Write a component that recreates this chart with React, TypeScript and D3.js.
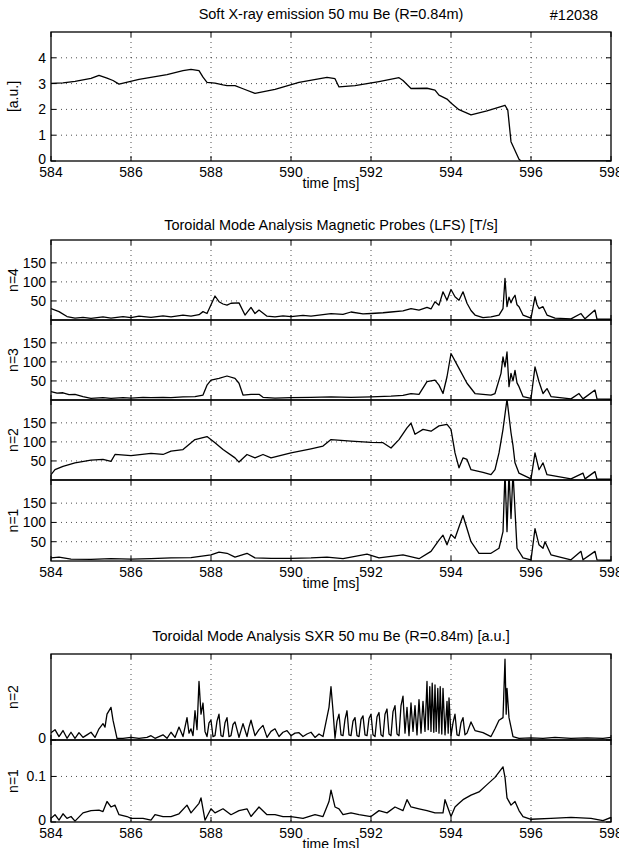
import React from "react";
import * as d3 from "d3";

// time axis
const xTicks = [584, 586, 588, 590, 592, 594, 596, 598];

// soft X-ray emission 50 mu Be (R=0.84m), [time ms, a.u.]
const sxrEmission: [number, number][] = [
  [584.0, 3.01], [584.3, 3.03], [584.6, 3.09], [585.0, 3.2], [585.2, 3.32], [585.4, 3.21], [585.55, 3.12],
  [585.7, 2.98], [586.2, 3.16], [586.9, 3.35], [587.3, 3.5], [587.5, 3.55], [587.7, 3.5], [587.8, 3.25],
  [587.9, 3.05], [588.1, 3.02], [588.3, 2.95], [588.4, 2.92], [588.6, 2.92], [588.8, 2.8], [589.1, 2.62],
  [589.6, 2.78], [590.2, 3.05], [590.9, 3.24], [591.1, 3.19], [591.2, 2.87], [591.6, 2.92], [592.2, 3.08],
  [592.7, 3.23], [592.8, 3.12], [593.0, 2.81], [593.4, 2.82], [593.6, 2.75], [593.7, 2.55], [593.9, 2.4],
  [594.0, 2.25], [594.2, 1.99], [594.5, 1.79], [594.9, 1.94], [595.35, 2.16], [595.42, 1.97],
  [595.5, 0.75], [595.7, 0.07], [595.75, 0.0], [598.0, 0.0],
];

// magnetic probes (LFS) [T/s]
const probeN4: [number, number][] = [
  [584.0, 30], [584.2, 22], [584.4, 9], [584.6, 5], [584.8, 7], [585.0, 4], [585.3, 8], [585.5, 5],
  [585.8, 9], [586.0, 6], [586.2, 10], [586.5, 7], [586.8, 11], [587.0, 8], [587.3, 13], [587.5, 10],
  [587.7, 14], [587.8, 22], [587.9, 17], [588.1, 63], [588.2, 48], [588.3, 42], [588.4, 39],
  [588.5, 44], [588.7, 45], [588.85, 13], [589.0, 33], [589.1, 17], [589.2, 26], [589.4, 10],
  [589.6, 8], [589.8, 11], [590.0, 9], [590.3, 12], [590.5, 10], [590.8, 14], [591.0, 17],
  [591.3, 15], [591.5, 21], [591.8, 16], [592.0, 17], [592.3, 19], [592.5, 21], [592.8, 24],
  [593.0, 30], [593.2, 26], [593.4, 33], [593.5, 29], [593.6, 48], [593.7, 39], [593.8, 74],
  [593.9, 52], [594.0, 80], [594.1, 61], [594.2, 52], [594.3, 74], [594.4, 44], [594.5, 25],
  [594.6, 13], [594.8, 6], [595.0, 8], [595.2, 13], [595.3, 30], [595.35, 109], [595.4, 35],
  [595.45, 60], [595.5, 45], [595.55, 57], [595.6, 65], [595.65, 40], [595.7, 35], [595.8, 13],
  [596.0, 5], [596.1, 61], [596.15, 40], [596.2, 30], [596.3, 35], [596.4, 13], [596.6, 5],
  [597.0, 3], [597.25, 17], [597.35, 3], [597.6, 26], [597.65, 2], [598.0, 2],
];
const probeN3: [number, number][] = [
  [584.0, 22], [584.15, 18], [584.3, 19], [584.45, 14], [584.6, 15], [584.8, 9], [585.0, 4],
  [585.3, 6], [585.5, 4], [585.8, 6], [586.0, 5], [586.3, 7], [586.5, 6], [586.8, 7], [587.0, 6],
  [587.3, 8], [587.6, 9], [587.8, 13], [587.9, 39], [588.0, 52], [588.2, 57], [588.4, 63],
  [588.6, 57], [588.7, 44], [588.8, 13], [589.0, 15], [589.2, 15], [589.3, 7], [589.6, 5],
  [590.0, 6], [590.5, 7], [591.0, 8], [591.5, 7], [592.0, 8], [592.5, 10], [592.8, 12],
  [593.0, 17], [593.2, 15], [593.4, 48], [593.6, 52], [593.7, 39], [593.8, 17], [593.9, 61],
  [594.0, 122], [594.2, 83], [594.4, 44], [594.6, 17], [594.8, 15], [595.0, 13], [595.1, 17],
  [595.25, 70], [595.3, 113], [595.35, 87], [595.4, 126], [595.45, 35], [595.5, 70],
  [595.55, 50], [595.6, 78], [595.65, 45], [595.7, 35], [595.8, 9], [596.0, 4], [596.1, 87],
  [596.2, 48], [596.3, 17], [596.4, 30], [596.5, 9], [597.0, 3], [597.2, 17], [597.3, 3],
  [597.6, 26], [597.65, 3], [598.0, 2],
];
const probeN2: [number, number][] = [
  [584.0, 14], [584.1, 27], [584.3, 36], [584.6, 45], [585.0, 52], [585.3, 54], [585.5, 49],
  [585.6, 67], [586.0, 64], [586.5, 70], [586.8, 67], [587.0, 76], [587.3, 80], [587.6, 106],
  [587.9, 114], [588.1, 98], [588.3, 80], [588.6, 58], [588.7, 47], [588.9, 67], [589.1, 58],
  [589.3, 67], [589.5, 58], [590.0, 71], [590.5, 82], [590.8, 89], [591.0, 106], [591.5, 102],
  [592.0, 99], [592.3, 98], [592.5, 84], [592.7, 106], [592.9, 137], [593.0, 149], [593.1, 120],
  [593.3, 133], [593.5, 128], [593.7, 142], [593.9, 146], [594.0, 133], [594.1, 71], [594.2, 32],
  [594.3, 58], [594.4, 54], [594.5, 27], [594.8, 20], [595.0, 14], [595.1, 27], [595.2, 71],
  [595.3, 133], [595.4, 212], [595.5, 124], [595.55, 90], [595.6, 45], [595.7, 18], [596.0, 3],
  [596.1, 71], [596.2, 27], [596.3, 45], [596.4, 14], [597.0, 3], [597.3, 18], [597.35, 3],
  [597.6, 22], [597.65, 2], [598.0, 2],
];
const probeN1: [number, number][] = [
  [584.0, 8], [584.2, 10], [584.5, 5], [585.0, 4], [585.5, 6], [586.0, 5], [586.5, 6], [587.0, 8],
  [587.5, 9], [588.0, 16], [588.2, 23], [588.4, 20], [588.6, 10], [588.9, 20], [589.1, 8],
  [589.5, 7], [590.0, 7], [590.5, 8], [590.9, 10], [591.3, 6], [591.9, 18], [592.2, 8],
  [592.8, 16], [593.2, 6], [593.5, 25], [593.7, 54], [593.8, 67], [593.9, 42], [594.0, 69],
  [594.1, 59], [594.3, 118], [594.5, 50], [594.7, 20], [595.0, 20], [595.2, 33], [595.3, 76],
  [595.35, 230], [595.4, 76], [595.45, 230], [595.5, 110], [595.55, 230], [595.65, 33],
  [595.8, 8], [596.0, 3], [596.1, 84], [596.2, 42], [596.3, 33], [596.35, 50], [596.5, 16],
  [597.0, 3], [597.25, 25], [597.3, 3], [597.6, 25], [597.65, 3], [598.0, 2],
];

// SXR toroidal mode analysis [a.u.]
const sxrModeN2: [number, number][] = [
  [584.0, 0.085], [584.1, 0.12], [584.2, 0.04], [584.3, 0.11], [584.4, 0.02], [584.5, 0.09],
  [584.6, 0.02], [584.7, 0.085], [584.8, 0.03], [584.9, 0.06], [585.0, 0.09], [585.1, 0.03],
  [585.2, 0.13], [585.3, 0.19], [585.35, 0.15], [585.4, 0.3], [585.5, 0.38], [585.55, 0.23],
  [585.65, 0.02], [585.8, 0.02], [586.0, 0.03], [586.2, 0.02], [586.4, 0.03], [586.5, 0.05],
  [586.6, 0.02], [586.8, 0.06], [586.9, 0.02], [587.0, 0.09], [587.1, 0.03], [587.2, 0.15],
  [587.3, 0.04], [587.4, 0.26], [587.45, 0.08], [587.5, 0.13], [587.55, 0.05], [587.6, 0.34],
  [587.65, 0.12], [587.7, 0.68], [587.75, 0.3], [587.8, 0.43], [587.85, 0.1], [587.9, 0.04],
  [587.95, 0.2], [588.0, 0.23], [588.05, 0.04], [588.1, 0.05], [588.15, 0.22], [588.2, 0.3],
  [588.25, 0.05], [588.3, 0.04], [588.35, 0.2], [588.4, 0.26], [588.45, 0.04], [588.5, 0.05],
  [588.55, 0.18], [588.6, 0.21], [588.7, 0.03], [588.8, 0.19], [588.9, 0.04], [588.95, 0.15],
  [589.0, 0.23], [589.1, 0.05], [589.2, 0.12], [589.3, 0.17], [589.4, 0.03], [589.5, 0.1],
  [589.6, 0.13], [589.7, 0.04], [589.8, 0.09], [589.9, 0.11], [590.0, 0.05], [590.1, 0.08],
  [590.2, 0.085], [590.3, 0.04], [590.4, 0.07], [590.5, 0.09], [590.6, 0.03], [590.7, 0.07],
  [590.8, 0.04], [590.95, 0.38], [591.0, 0.62], [591.05, 0.34], [591.1, 0.02], [591.15, 0.22],
  [591.2, 0.3], [591.25, 0.06], [591.3, 0.05], [591.35, 0.24], [591.4, 0.34], [591.45, 0.06],
  [591.5, 0.05], [591.55, 0.22], [591.6, 0.26], [591.65, 0.05], [591.7, 0.04], [591.75, 0.24],
  [591.8, 0.28], [591.85, 0.06], [591.9, 0.05], [591.95, 0.25], [592.0, 0.3], [592.05, 0.06],
  [592.1, 0.04], [592.15, 0.27], [592.2, 0.32], [592.25, 0.06], [592.3, 0.04], [592.35, 0.3],
  [592.4, 0.36], [592.45, 0.07], [592.5, 0.05], [592.55, 0.33], [592.6, 0.4], [592.65, 0.07],
  [592.7, 0.05], [592.75, 0.4], [592.8, 0.51], [592.85, 0.08], [592.9, 0.38], [592.95, 0.05],
  [593.0, 0.43], [593.05, 0.1], [593.1, 0.4], [593.15, 0.06], [593.2, 0.47], [593.25, 0.08],
  [593.3, 0.45], [593.35, 0.1], [593.4, 0.68], [593.43, 0.12], [593.47, 0.62], [593.5, 0.1],
  [593.53, 0.66], [593.57, 0.09], [593.6, 0.64], [593.63, 0.1], [593.67, 0.6], [593.7, 0.08],
  [593.73, 0.62], [593.77, 0.07], [593.8, 0.6], [593.85, 0.06], [593.9, 0.45], [593.93, 0.08],
  [593.95, 0.49], [594.0, 0.05], [594.05, 0.2], [594.1, 0.3], [594.15, 0.06], [594.2, 0.05],
  [594.25, 0.2], [594.3, 0.26], [594.35, 0.06], [594.4, 0.08], [594.5, 0.21], [594.6, 0.11],
  [594.8, 0.085], [595.0, 0.04], [595.1, 0.13], [595.2, 0.23], [595.3, 0.26], [595.35, 0.94],
  [595.38, 0.3], [595.4, 0.6], [595.45, 0.26], [595.55, 0.04], [595.7, 0.02], [596.0, 0.025],
  [596.3, 0.02], [596.6, 0.03], [597.0, 0.02], [597.4, 0.025], [597.8, 0.02], [598.0, 0.03],
];
const sxrModeN1: [number, number][] = [
  [584.0, 0.008], [584.1, 0.016], [584.2, 0.004], [584.3, 0.018], [584.4, 0.008], [584.5, 0.012],
  [584.6, 0.002], [584.8, 0.02], [585.0, 0.025], [585.2, 0.026], [585.3, 0.023], [585.4, 0.045],
  [585.5, 0.033], [585.6, 0.037], [585.7, 0.016], [585.9, 0.012], [586.0, 0.008], [586.3, 0.008],
  [586.5, 0.004], [586.6, 0.016], [586.8, 0.012], [587.0, 0.012], [587.2, 0.018], [587.4, 0.037],
  [587.5, 0.02], [587.7, 0.041], [587.75, 0.053], [587.85, 0.004], [588.0, 0.029], [588.1, 0.02],
  [588.3, 0.029], [588.5, 0.016], [588.7, 0.025], [588.9, 0.029], [589.0, 0.012], [589.2, 0.033],
  [589.4, 0.016], [589.6, 0.016], [589.8, 0.012], [590.0, 0.012], [590.3, 0.008], [590.6, 0.016],
  [590.8, 0.012], [590.95, 0.045], [591.0, 0.07], [591.1, 0.033], [591.2, 0.029], [591.3, 0.016],
  [591.5, 0.02], [591.7, 0.016], [592.0, 0.012], [592.2, 0.025], [592.4, 0.02], [592.6, 0.033],
  [592.8, 0.025], [592.9, 0.049], [593.0, 0.033], [593.2, 0.029], [593.4, 0.025], [593.6, 0.02],
  [593.8, 0.02], [593.85, 0.049], [594.0, 0.012], [594.1, 0.033], [594.2, 0.041], [594.3, 0.049],
  [594.5, 0.059], [594.7, 0.066], [594.9, 0.082], [595.1, 0.098], [595.3, 0.121], [595.35, 0.098],
  [595.4, 0.053], [595.5, 0.037], [595.6, 0.045], [595.7, 0.025], [595.8, 0.012], [596.0, 0.006],
  [596.5, 0.008], [597.0, 0.01], [597.5, 0.008], [597.8, 0.003], [598.0, 0.01],
];

const W = 619;
const H = 848;
const left = 51;
const right = 611;
const font = "'Liberation Sans', Arial, Helvetica, sans-serif";

type Panel = {
  id: string;
  data: [number, number][];
  top: number;
  bottom: number;
  domain: [number, number];
  yTicks: number[];
  gridY: number[];
  label: string;
};

const panels: Panel[] = [
  { id: "sxr", data: sxrEmission, top: 32, bottom: 161, domain: [0, 5], yTicks: [0, 1, 2, 3, 4], gridY: [1, 2, 3, 4], label: "[a.u.]" },
  { id: "p4", data: probeN4, top: 240, bottom: 320, domain: [0, 210], yTicks: [50, 100, 150], gridY: [50, 100, 150], label: "n=4" },
  { id: "p3", data: probeN3, top: 320, bottom: 400, domain: [0, 210], yTicks: [50, 100, 150], gridY: [50, 100, 150], label: "n=3" },
  { id: "p2", data: probeN2, top: 400, bottom: 480, domain: [0, 210], yTicks: [50, 100, 150], gridY: [50, 100, 150], label: "n=2" },
  { id: "p1", data: probeN1, top: 480, bottom: 561, domain: [0, 210], yTicks: [50, 100, 150], gridY: [50, 100, 150], label: "n=1" },
  { id: "s2", data: sxrModeN2, top: 654, bottom: 740, domain: [0, 1], yTicks: [0], gridY: [], label: "n=2" },
  { id: "s1", data: sxrModeN1, top: 740, bottom: 822, domain: [0, 0.18], yTicks: [0, 0.1], gridY: [0.1], label: "n=1" },
];

const x = d3.scaleLinear().domain([584, 598]).range([left, right]);

const titles = [
  { text: "Soft X-ray emission 50 mu Be (R=0.84m)", y: 14 },
  { text: "Toroidal Mode Analysis Magnetic Probes (LFS) [T/s]", y: 225 },
  { text: "Toroidal Mode Analysis SXR 50 mu Be (R=0.84m) [a.u.]", y: 636 },
];
const axisBottoms = [161, 561, 822];

const PanelView = ({ p }: { p: Panel }) => {
  const y = d3.scaleLinear().domain(p.domain).range([p.bottom, p.top]);
  const line = d3.line<[number, number]>().x(d => x(d[0])).y(d => y(d[1]));
  const grid = { stroke: "#000", strokeWidth: 0.7, strokeDasharray: "1 4" };
  return (
    <g>
      <clipPath id={"clip-" + p.id}>
        <rect x={left} y={p.top} width={right - left} height={p.bottom - p.top} />
      </clipPath>
      {xTicks.slice(1, -1).map(t => (
        <line key={"gx" + t} x1={x(t)} x2={x(t)} y1={p.top} y2={p.bottom} {...grid} />
      ))}
      {p.gridY.map(t => (
        <line key={"gy" + t} x1={left} x2={right} y1={y(t)} y2={y(t)} {...grid} />
      ))}
      <path d={line(p.data) || ""} fill="none" stroke="#000" strokeWidth={1.3} strokeLinejoin="round" clipPath={`url(#clip-${p.id})`} />
      <rect x={left} y={p.top} width={right - left} height={p.bottom - p.top} fill="none" stroke="#000" strokeWidth={1.3} />
      {xTicks.map(t => (
        <g key={"tx" + t}>
          <line x1={x(t)} x2={x(t)} y1={p.bottom} y2={p.bottom - 5} stroke="#000" />
          <line x1={x(t)} x2={x(t)} y1={p.top} y2={p.top + 5} stroke="#000" />
        </g>
      ))}
      {p.yTicks.map(t => (
        <g key={"ty" + t}>
          <line x1={left} x2={left + 5} y1={y(t)} y2={y(t)} stroke="#000" />
          <line x1={right} x2={right - 5} y1={y(t)} y2={y(t)} stroke="#000" />
          <text x={left - 5} y={t === 0 ? y(t) - 2 : y(t)} dy="0.35em" textAnchor="end" fontSize={14}>{t}</text>
        </g>
      ))}
      <text transform={`translate(18,${(p.top + p.bottom) / 2}) rotate(-90)`} textAnchor="middle" fontSize={14}>
        {p.label}
      </text>
    </g>
  );
};

export default function App() {
  return (
    <div style={{ position: "absolute", left: 0, top: 0, background: "#fff" }}>
      <svg width={W} height={H} style={{ fontFamily: font, display: "block" }}>
        <rect width={W} height={H} fill="#fff" />
        {titles.map(t => (
          <text key={t.text} x={331} y={t.y} dy="0.35em" textAnchor="middle" fontSize={14.5}>{t.text}</text>
        ))}
        <text x={574} y={15} dy="0.35em" textAnchor="middle" fontSize={14.5}>#12038</text>
        {panels.map(p => <PanelView key={p.id} p={p} />)}
        {axisBottoms.map(b => (
          <g key={"xa" + b}>
            {xTicks.map(t => (
              <text key={t} x={x(t)} y={b + 11} dy="0.35em" textAnchor="middle" fontSize={14}>{t}</text>
            ))}
            <text x={(left + right) / 2} y={b + 22} dy="0.35em" textAnchor="middle" fontSize={14}>time [ms]</text>
          </g>
        ))}
      </svg>
    </div>
  );
}
